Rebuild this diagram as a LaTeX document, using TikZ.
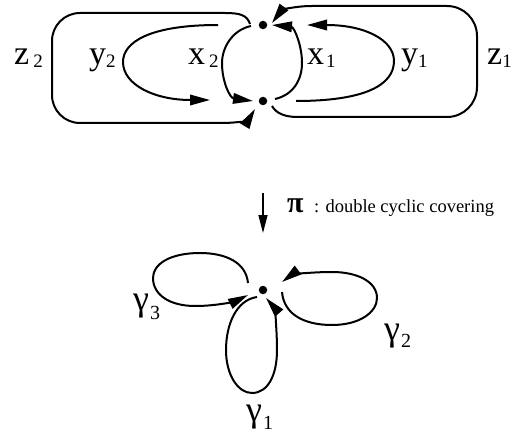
\documentclass[tikz,border=0pt]{standalone}
\usepackage{fontspec}
\setmainfont{Liberation Serif}
\usetikzlibrary{arrows.meta,calc}
\newcommand\mylbl[4]{\fontsize{34}{34}\selectfont #1\kern#3\lower#4\hbox{\fontsize{19}{19}\selectfont #2}}
\newcommand\mygam[2]{\fontsize{36}{36}\selectfont γ\kern1pt\lower#2\hbox{\fontsize{20}{20}\selectfont #1}}
\tikzset{
  line/.style={line width=2pt},
  arr/.style={line width=2pt,-{Triangle[length=20pt,width=10.5pt]}},
  dot/.style={circle,fill,inner sep=0pt,minimum size=8.5pt},
  lab/.style={anchor=base west,inner sep=0pt}
}
\begin{document}
\begin{tikzpicture}[x=1pt,y=-1pt]
\useasboundingbox (0,0) rectangle (511,433);
% dots
\node[dot] (t) at (263,25) {};
\node[dot] (b) at (263,101) {};
\node[dot] (c) at (263,290) {};
% z2
\draw[arr] ($(t)+(-13,-1)$) .. controls (247,15) and (240,13) .. (225,13) -- (80,13)
  .. controls (64.5,13) and (52,25.5) .. (52,41) -- (52,95)
  .. controls (52,110.5) and (64.5,123) .. (80,123) -- (222,123)
  .. controls (240,123) and (249,119) .. ($(b)+(-8,8)$);
% z1
\draw[arr] ($(b)+(9,5)$) .. controls (276,113) and (284,117) .. (298,117) -- (447,117)
  .. controls (463.6,117) and (477,103.6) .. (477,87) -- (477,36)
  .. controls (477,19.4) and (463.6,6) .. (447,6) -- (312,6)
  .. controls (293,6) and (281,11) .. ($(t)+(9,-2)$);
% y2
\draw[arr] ($(t)+(-45,0)$) .. controls (150,25) and (123,42) .. (123,62)
  .. controls (123,85) and (155,100) .. ($(b)+(-53,-1)$);
% x2
\draw[arr] ($(t)+(-12,1)$) .. controls (232,30) and (222,48) .. (222,63)
  .. controls (222,82) and (230,98) .. ($(b)+(-10,0)$);
% x1
\draw[arr] ($(b)+(12,-2)$) .. controls (293,95) and (302,80) .. (302,63)
  .. controls (302,45) and (294,27) .. ($(t)+(9,0)$);
% y1
\draw[arr] ($(b)+(33,0)$) .. controls (365,101) and (394,85) .. (394,61)
  .. controls (394,40) and (365,25) .. ($(t)+(44,0)$);
% labels top
\node[lab] (lz2) at (14,65) {\mylbl{z}{2}{4pt}{3pt}};
\node[lab] (ly2) at (89,65) {\mylbl{y}{2}{0pt}{3pt}};
\node[lab] (lx2) at (188,65) {\mylbl{x}{2}{4pt}{3pt}};
\node[lab] (lx1) at (307,65) {\mylbl{x}{1}{2pt}{3pt}};
\node[lab] (ly1) at (401,65) {\mylbl{y}{1}{0pt}{3pt}};
\node[lab] (lz1) at (487,65) {\mylbl{z}{1}{0pt}{3pt}};
% covering arrow
\coordinate (pa) at ($(b)+(0,92)$);
\coordinate (pb) at ($(c)+(0,-57)$);
\draw[line width=1.4pt,-{Triangle[length=18pt,width=9pt]}] (pa) -- (pb);
\node[lab] (pi) at (287,212) {\fontsize{30}{30}\selectfont\bfseries π};
\node[lab] (cov) at (314,212) {\fontsize{18.5}{20}\selectfont : double cyclic covering};
% gamma loops
\draw[arr] ($(c)+(19,2)$) .. controls (284,315) and (305,325) .. (332,325)
  .. controls (360,325) and (377,312) .. (377,298)
  .. controls (377,282) and (358,272) .. (332,272)
  .. controls (305,272) and (290,276) .. ($(c)+(19,-8)$);
\draw[arr] ($(c)+(-6,7)$) .. controls (236,300) and (226,325) .. (226,350)
  .. controls (226,375) and (238,393) .. (252,393)
  .. controls (268,393) and (277,375) .. (277,350)
  .. controls (277,322) and (273,306) .. ($(c)+(3,8)$);
\draw[arr] ($(c)+(-15,-7)$) .. controls (246,262) and (225,253) .. (200,253)
  .. controls (170,253) and (153,264) .. (153,278)
  .. controls (153,295) and (170,306) .. (195,306)
  .. controls (220,306) and (238,300) .. ($(c)+(-15,5)$);
\node[lab] (g3) at (133,310) {\mygam{3}{9pt}};
\node[lab] (g2) at (384,340) {\mygam{2}{7pt}};
\node[lab] (g1) at (246,421) {\mygam{1}{8pt}};
\end{tikzpicture}
\end{document}
